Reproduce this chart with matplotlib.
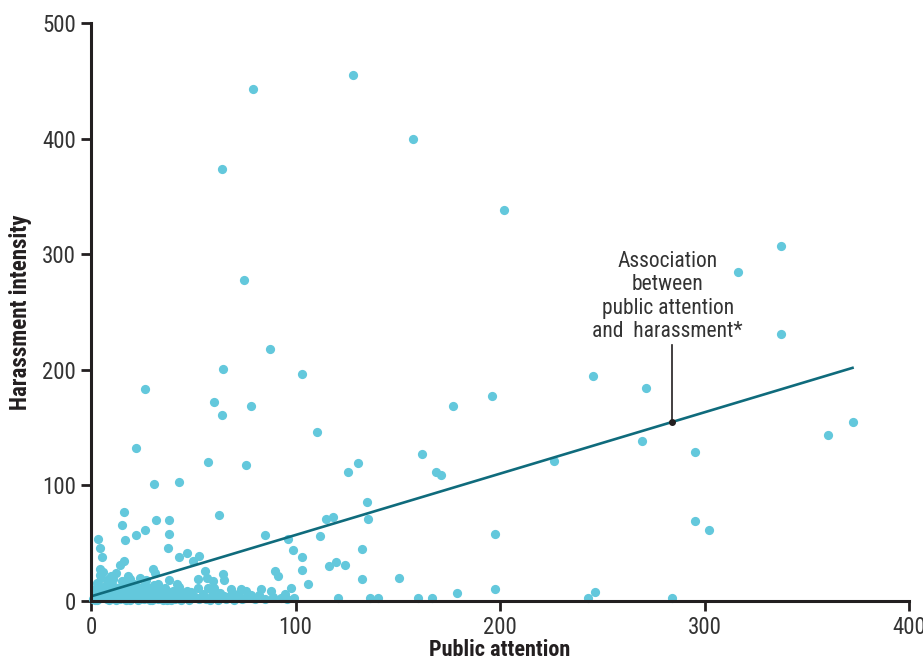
import matplotlib
matplotlib.use("Agg")
import matplotlib.pyplot as plt
from matplotlib import font_manager
import numpy as np

# public attention (x) vs harassment intensity (y), one dot per person
HIGH_X = [128, 79, 157.5, 64, 202, 75, 337.5, 316.5, 337.5, 87.5, 64.5, 103, 245.5, 271.5,
          26.5, 60, 196, 78, 177, 64, 360.5, 372.5, 110.5, 269.5, 22, 162, 295.5, 57, 76,
          130.5, 125.5, 168.5, 171, 226.5, 43, 31]
HIGH_Y = [455, 443, 400, 374, 338, 278, 307, 285, 231, 218, 201, 196, 195, 184,
          183, 172, 177, 169, 169, 161, 144, 155, 146, 138, 132, 127, 129, 120, 118,
          119, 112, 112, 109, 121, 103, 101]

MID_X = [134.8, 114.8, 118.3, 135.6, 295.5, 302, 62.4, 32, 38.3, 16.3, 15.3, 26.4, 22, 3.6,
         197.7, 85.2, 111.8, 132.7, 99, 96.5, 16.5, 38.3, 37.8, 43.2, 46.8, 50, 52.8, 4.2,
         5.5, 103, 103, 89.8, 91.6, 106, 88, 89, 94.7, 98, 99.3, 116.2, 120, 124.2, 132.7,
         150.8, 120.8, 136.6, 140.2, 159.8, 166.7, 179.1, 197.7, 243, 246.6, 284]
MID_Y = [86, 71, 73, 71, 69, 61, 74, 70, 70, 77, 66, 61, 57, 54,
         58, 57, 56.5, 45, 44, 54, 53, 58, 46, 38, 41.5, 34.6, 39, 46,
         38, 38, 27, 26, 22, 15, 9, 3.5, 6, 11, 3, 30, 34, 31, 19,
         20, 3, 3, 3, 3, 3, 6.5, 10.5, 3, 8, 3]

LOW_X = [55.7, 56.6, 52.2, 59.5, 64.4, 65, 38.3, 41.9, 30.2, 31.3, 16.3, 14.2, 12.2, 4.2,
         4.2, 19, 10.9, 7.7, 73.3, 83.1, 68.3, 60.1, 52.2, 57, 46.8, 33.7, 27.2, 75.3, 78.9,
         1, 2, 3, 4, 5, 6, 7, 8, 9, 10, 11, 12, 13, 14, 15, 16, 17, 18, 19, 20, 21, 22, 23,
         24, 25, 26, 27, 28, 29, 30, 31, 32, 33, 34, 35, 36, 37, 38, 39, 40, 41, 42, 44, 45,
         47, 48, 50, 53, 55, 58, 61, 63, 66, 68, 70, 72, 76, 80, 82, 85, 93, 96,
         2, 3, 5, 6, 8, 10, 12, 14, 16, 18, 20, 22, 24, 26, 28, 30, 33, 35, 37, 43, 46, 49,
         52, 56, 59, 62, 65, 69, 74, 78, 2, 4, 7, 9, 11, 13, 15, 17, 19, 21, 23, 25, 27, 29,
         31, 34, 36, 39, 41, 44]
LOW_Y = [26.2, 20, 18.8, 17.3, 23, 18, 17.9, 14.7, 27.4, 24, 34.9, 31.1, 24.5, 27.4,
         22.2, 19, 19, 18.2, 10.6, 10.6, 10.6, 11, 11, 11, 9, 11, 12.4, 3, 3,
         2, 5, 1, 8, 3, 12, 6, 2, 15, 9, 4, 1, 11, 7, 17, 3, 13, 6, 1, 10, 15, 4, 8,
         2, 12, 6, 18, 3, 9, 1, 14, 5, 2, 8, 4, 11, 1, 6, 3, 9, 2, 5, 1, 7,
         3, 1, 5, 2, 6, 1, 3, 7, 2, 4, 1, 6, 9, 2, 5, 2, 3, 2,
         10, 16, 20, 25, 14, 22, 6, 2, 9, 22, 5, 13, 20, 2, 10, 6, 15, 1, 9, 12, 4, 8,
         3, 2, 5, 1, 4, 7, 2, 5, 0.5, 3, 10, 1, 13, 3, 6, 1, 8, 3, 1, 5, 3, 1,
         7, 3, 6, 1, 8, 3]

# fitted association line
TREND_X = [0, 373]
TREND_Y = [4, 202]
ANNOT_X = 284
ANNOT_TEXT = "Association\nbetween\npublic attention\nand  harassment*"

X_TICKS = [0, 100, 200, 300, 400]
Y_TICKS = [0, 100, 200, 300, 400, 500]

DOT = "#63c8dc"
LINE = "#0f6b7c"
INK = "#231f20"

# prefer a narrow face if one is installed
names = {f.name for f in font_manager.fontManager.ttflist}
narrow = [n for n in ("Liberation Sans Narrow", "Roboto Condensed", "Open Sans Condensed",
                      "DejaVu Sans Condensed") if n in names]
FONT = narrow + ["DejaVu Sans"]
plt.rcParams["font.family"] = FONT
plt.rcParams["font.stretch"] = "condensed"

fig = plt.figure(figsize=(9.23, 6.62), dpi=100)
ax = fig.add_axes([91 / 923, 61 / 662, 818 / 923, 578 / 662])

xs = HIGH_X + MID_X + LOW_X
ys = HIGH_Y + MID_Y + LOW_Y
ax.scatter(xs, ys, s=44, color=DOT, linewidths=0, zorder=2, clip_on=False)

ax.plot(TREND_X, TREND_Y, color=LINE, lw=1.9, zorder=3, solid_capstyle="butt")

annot_y = float(np.interp(ANNOT_X, TREND_X, TREND_Y))
ax.plot([ANNOT_X, ANNOT_X], [annot_y, 221.5], color=INK, lw=1.2, zorder=4)
ax.scatter([ANNOT_X], [annot_y], s=16, color=INK, zorder=5)
ax.text(282, 224, ANNOT_TEXT, ha="center", va="bottom", fontsize=15.5,
        color="#333333", linespacing=1.15)

ax.set_xlim(0, 400)
ax.set_ylim(0, 500)
ax.set_xticks(X_TICKS)
ax.set_yticks(Y_TICKS)
ax.tick_params(axis="both", direction="out", length=7, width=2, color=INK,
               labelsize=16.5, labelcolor="#333333", pad=4)

for side in ("top", "right"):
    ax.spines[side].set_visible(False)
for side in ("left", "bottom"):
    ax.spines[side].set_linewidth(2.2)
    ax.spines[side].set_color(INK)
    ax.spines[side].set_zorder(6)

ax.set_xlabel("Public attention", fontsize=16, fontweight="bold", color=INK, labelpad=0)
ax.set_ylabel("Harassment intensity", fontsize=16.5, fontweight="bold", color=INK, labelpad=7)

fig.savefig("out.png", dpi=100)
